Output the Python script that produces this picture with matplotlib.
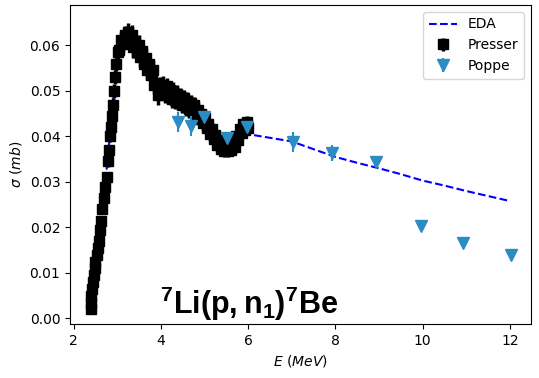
import numpy as np
import matplotlib
matplotlib.use("Agg")
import matplotlib.pyplot as plt

plt.rcParams['mathtext.fontset'] = 'custom'
plt.rcParams['mathtext.rm'] = 'DejaVu Sans'
plt.rcParams['mathtext.it'] = 'DejaVu Sans:italic'
plt.rcParams['mathtext.bf'] = 'Liberation Sans:bold'

# Presser data (E in MeV, sigma in mb)
presser_E = [2.39, 2.40, 2.41, 2.42, 2.44, 2.46, 2.48, 2.50, 2.53, 2.56,
             2.58, 2.61, 2.64, 2.66, 2.69, 2.73, 2.76, 2.80, 2.82, 2.84,
             2.86, 2.88, 2.90, 2.92, 2.95, 2.98, 3.01, 3.05, 3.09, 3.13,
             3.17, 3.21, 3.25, 3.29, 3.33, 3.37, 3.41, 3.45, 3.49, 3.53,
             3.57, 3.61, 3.65, 3.69, 3.73, 3.77, 3.81, 3.85, 3.89, 3.93,
             3.97, 4.01, 4.05, 4.09, 4.13, 4.17, 4.21, 4.25, 4.29, 4.33,
             4.37, 4.41, 4.45, 4.49, 4.53, 4.57, 4.61, 4.65, 4.69, 4.73,
             4.77, 4.81, 4.85, 4.89, 4.93, 4.97, 5.01, 5.05, 5.09, 5.13,
             5.17, 5.21, 5.25, 5.29, 5.33, 5.37, 5.41, 5.45, 5.49, 5.53,
             5.57, 5.61, 5.65, 5.69, 5.73, 5.77, 5.81, 5.85, 5.89, 5.93,
             5.97, 6.00]
presser_sig = [0.0020, 0.0035, 0.0050, 0.0065, 0.0080, 0.0095, 0.0110, 0.0125, 0.0140, 0.0155,
               0.0170, 0.0195, 0.0215, 0.0240, 0.0265, 0.0290, 0.0310, 0.0345, 0.0370, 0.0400,
               0.0420, 0.0445, 0.0470, 0.0500, 0.0530, 0.0560, 0.0585, 0.0590, 0.0612, 0.0603,
               0.0622, 0.0612, 0.0630, 0.0610, 0.0622, 0.0596, 0.0610, 0.0586, 0.0600, 0.0575,
               0.0588, 0.0560, 0.0572, 0.0546, 0.0560, 0.0535, 0.0546, 0.0513, 0.0517, 0.0490,
               0.0512, 0.0500, 0.0513, 0.0492, 0.0510, 0.0490, 0.0503, 0.0482, 0.0500, 0.0480,
               0.0493, 0.0478, 0.0488, 0.0470, 0.0484, 0.0464, 0.0478, 0.0460, 0.0473, 0.0454,
               0.0468, 0.0447, 0.0458, 0.0439, 0.0450, 0.0429, 0.0440, 0.0419, 0.0428, 0.0406,
               0.0416, 0.0394, 0.0404, 0.0382, 0.0393, 0.0373, 0.0386, 0.0368, 0.0383, 0.0367,
               0.0384, 0.0370, 0.0389, 0.0377, 0.0400, 0.0392, 0.0416, 0.0407, 0.0428, 0.0415,
               0.0432, 0.0418]
presser_err = [0.0005, 0.0005, 0.0005, 0.0005, 0.0006, 0.0006, 0.0006, 0.0007, 0.0007, 0.0008,
               0.0008, 0.0009, 0.0009, 0.0010, 0.0010, 0.0011, 0.0011, 0.0012, 0.0012, 0.0013,
               0.0013, 0.0014, 0.0014, 0.0015, 0.0015, 0.0016, 0.0016, 0.0016, 0.0018, 0.0018,
               0.0020, 0.0020, 0.0020, 0.0022, 0.0022, 0.0023, 0.0023, 0.0023, 0.0023, 0.0023,
               0.0023, 0.0023, 0.0023, 0.0023, 0.0022, 0.0022, 0.0022, 0.0020, 0.0020, 0.0020,
               0.0019, 0.0019, 0.0019, 0.0019, 0.0019, 0.0019, 0.0019, 0.0019, 0.0019, 0.0019,
               0.0019, 0.0019, 0.0019, 0.0019, 0.0019, 0.0019, 0.0019, 0.0019, 0.0019, 0.0019,
               0.0018, 0.0018, 0.0018, 0.0018, 0.0018, 0.0018, 0.0018, 0.0018, 0.0017, 0.0017,
               0.0016, 0.0016, 0.0015, 0.0015, 0.0014, 0.0014, 0.0013, 0.0013, 0.0013, 0.0013,
               0.0013, 0.0013, 0.0013, 0.0013, 0.0013, 0.0013, 0.0013, 0.0013, 0.0013, 0.0013,
               0.0012, 0.0012]

# Poppe data
poppe_E = [4.40, 4.68, 5.00, 5.52, 5.97, 7.02, 7.93, 8.92, 9.95, 10.93, 12.03]
poppe_sig = [0.0432, 0.0423, 0.0443, 0.0396, 0.0421, 0.0388, 0.0363, 0.0344, 0.0203, 0.0166, 0.0140]
poppe_err = [0.0022, 0.0022, 0.0012, 0.0010, 0.0010, 0.0022, 0.0018, 0.0012, 0.0003, 0.0003, 0.0003]

# EDA calculation
eda_E = [2.50, 2.55, 2.65, 2.75, 2.85, 2.95, 3.05, 3.15, 3.25, 3.40,
         3.60, 3.80, 4.00, 4.30, 4.60, 4.90, 5.20, 5.50, 5.70, 5.85,
         6.00, 6.50, 7.00, 7.50, 8.00, 8.50, 9.00, 9.50, 10.00, 10.50,
         11.00, 11.50, 12.00]
eda_sig = [0.0110, 0.0150, 0.0230, 0.0320, 0.0420, 0.0520, 0.0590, 0.0615, 0.0620, 0.0600,
           0.0570, 0.0535, 0.0505, 0.0490, 0.0472, 0.0445, 0.0405, 0.0378, 0.0385, 0.0403,
           0.0405, 0.0397, 0.0389, 0.0372, 0.0355, 0.0342, 0.0330, 0.0317, 0.0303, 0.0292,
           0.0280, 0.0269, 0.0258]

poppe_color = '#2b8cc4'

fig = plt.figure(figsize=(5.39, 3.78), dpi=100)
ax = fig.add_axes([0.130, 0.143, 0.855, 0.844])

ax.plot(eda_E, eda_sig, '--', color='b', lw=1.5, label='EDA', zorder=1)
ax.errorbar(presser_E, presser_sig, yerr=presser_err, fmt='s', color='k',
            ms=7.5, elinewidth=2.5, label='Presser', zorder=2)
ax.errorbar(poppe_E, poppe_sig, yerr=poppe_err, fmt='v', color=poppe_color,
            ms=8, elinewidth=1.5, label='Poppe', zorder=3)

ax.set_xlim(1.92, 12.48)
ax.set_ylim(-0.0012, 0.0689)
ax.set_xticks([2, 4, 6, 8, 10, 12])
ax.set_yticks([0.0, 0.01, 0.02, 0.03, 0.04, 0.05, 0.06])
ax.tick_params(labelsize=10)

ax.set_xlabel(r'$E\ (MeV)$', fontsize=10)
ax.set_ylabel(r'$\sigma\ (mb)$', fontsize=10)

ax.text(3.97, 0.0009, r'$\mathbf{{}^{7}Li(p,n_{1}){}^{7}Be}$', fontsize=22,
        ha='left', va='baseline')

ax.legend(loc='upper right', fontsize=10)

fig.savefig('out.png', dpi=100)
